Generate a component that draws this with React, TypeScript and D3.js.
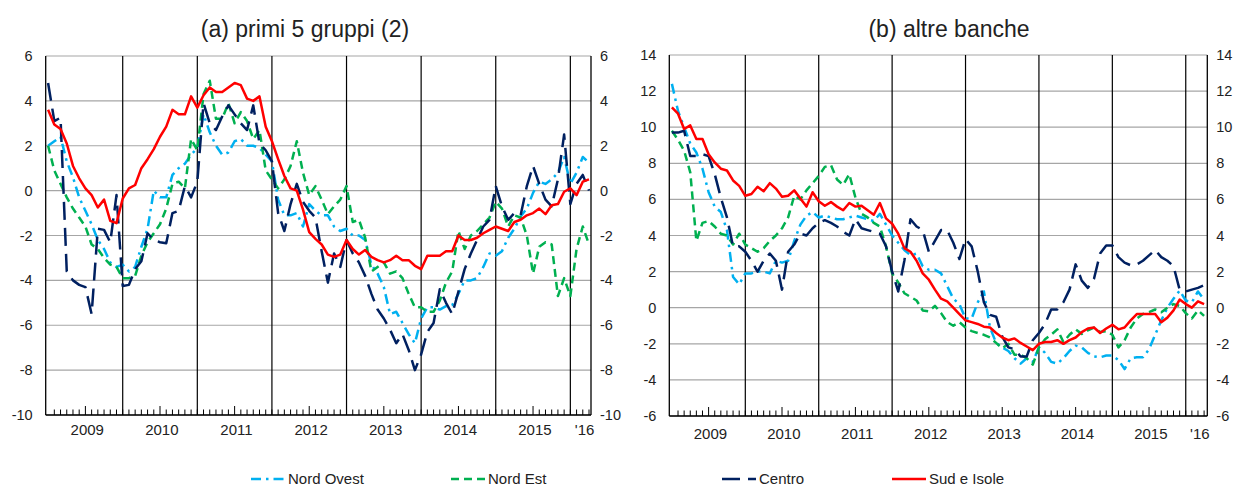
import * as d3 from 'd3';

// monthly data, Jan 2009 .. Apr 2016 (index 0 = Jan 2009)
const yearLabels = ['2009', '2010', '2011', '2012', '2013', '2014', '2015', "'16"];
const yearLabelMonth = [6.3, 18.3, 30.3, 42.3, 54.3, 66.3, 78.3, 86.3];
const yearBreaks = [12, 24, 36, 48, 60, 72, 84];

// (a) primi 5 gruppi
const ovestA = [
  2.0, 2.2, 2.4, 1.3, 0.6, -0.3, -0.9, -1.5, -2.2, -2.6, -3.2, -3.4,
  -3.3, -3.6, -3.4, -2.5, -1.7, 0.0, -0.3, -0.3, 0.7, 1.0, 1.2, 1.6,
  1.9, 3.4, 2.6, 2.0, 1.6, 1.7, 2.2, 2.3, 2.0, 2.0, 1.9, 1.6,
  1.3, -0.4, -1.1, -1.1, -1.0, -1.6, -0.6, -0.9, -1.1, -1.1, -1.6, -1.8,
  -1.7, -2.0, -2.0, -2.2, -3.3, -3.7, -4.3, -5.5, -5.4, -5.9, -6.4, -6.8,
  -5.7, -5.2, -5.2, -5.3, -5.15, -5.1, -4.6, -4.0, -4.0, -3.9, -3.4, -2.8,
  -2.9, -2.7, -2.1, -1.7, -1.15, -0.8, -0.1, 0.4, 0.3, 0.5, 0.8, 1.5,
  0.3, 0.8, 1.5, 1.25,
];
const estA = [
  2.0, 0.9, 0.3, -0.3, -0.8, -1.2, -1.6, -2.4, -2.6, -3.0, -3.3, -3.4,
  -3.9, -3.9, -3.8, -2.9, -2.3, -1.9, -1.5, -0.8, 0.3, 0.4, 0.1, 2.3,
  1.8, 4.3, 4.9, 3.2, 3.2, 3.9, 3.0, 3.5, 3.1, 2.3, 2.7, 0.9,
  0.5, 0.1, 0.5, 1.1, 2.2, 0.8, -0.2, 0.2, -0.4, -1.05, -0.7, -0.4,
  0.2, -1.4, -1.3, -2.1, -3.6, -3.4, -3.2, -3.7, -3.6, -3.9, -4.6, -5.2,
  -5.2, -5.4, -5.4, -4.9, -4.1, -3.6, -1.8, -2.6, -2.0, -1.8, -1.5, -1.2,
  -0.5, -0.8, -1.6, -1.1, -1.2, -2.0, -3.7, -2.5, -2.3, -2.4, -4.7, -3.9,
  -4.7, -2.6, -1.6, -2.4,
];
const centroA = [
  4.8, 3.1, 3.25, -3.6, -4.0, -4.2, -4.3, -5.5, -1.7, -1.75, -2.3, -0.2,
  -4.25, -4.2, -3.5, -3.15, -1.9, -2.2, -2.3, -2.35, -1.0, -0.9, 0.2, -0.3,
  0.4, 3.9, 3.0, 2.7, 3.3, 3.8, 3.4, 3.0, 2.7, 3.8, 2.1, 1.8,
  1.3, -1.0, -1.8, -0.6, 0.3, -0.5, -0.9, -1.2, -2.7, -4.1, -2.8, -3.4,
  -2.2, -2.8, -3.2, -3.8, -4.6, -5.3, -5.7, -6.2, -6.8, -6.4, -7.1, -8.0,
  -7.3, -6.3, -5.9, -4.4, -5.0, -5.5, -4.5, -3.5, -2.8, -2.2, -1.6, -1.3,
  0.2, -0.7, -1.3, -1.0, -1.1, 0.2, 1.1, 0.3, -0.4, -0.7, 0.5, 2.5,
  -0.6, 0.3, 0.7, 0.0,
];
const sudA = [
  3.6, 2.95, 2.75, 2.1, 1.1, 0.55, 0.1, -0.2, -0.75, -0.4, -1.35, -1.45,
  -0.35, 0.1, 0.25, 1.0, 1.4, 1.85, 2.4, 2.85, 3.6, 3.4, 3.4, 4.2,
  3.7, 4.25, 4.6, 4.4, 4.4, 4.6, 4.8, 4.7, 4.1, 4.0, 4.2, 2.85,
  2.2, 1.4, 0.65, 0.1, 0.0, -0.85, -1.85, -2.15, -2.4, -2.85, -2.95, -2.85,
  -2.2, -2.6, -2.85, -2.65, -2.95, -3.1, -3.2, -3.1, -2.9, -3.1, -3.1, -3.35,
  -3.5, -2.9, -2.9, -2.9, -2.7, -2.7, -2.0, -2.2, -2.2, -2.1, -1.9, -1.75,
  -1.6, -1.7, -1.8, -1.4, -1.3, -1.1, -1.0, -0.8, -1.05, -0.65, -0.6, -0.05,
  0.1, -0.2, 0.4, 0.5,
];

// (b) altre banche
const ovestB = [
  12.4, 10.9, 10.0, 9.1, 8.6, 7.7, 6.4, 5.6, 5.3, 4.3, 1.7, 1.3,
  1.9, 1.9, 2.0, 2.0, 1.9, 2.6, 2.5, 2.6, 3.7, 4.6, 5.1, 5.3,
  5.0, 5.1, 5.0, 4.9, 4.9, 5.0, 5.1, 5.0, 4.9, 4.8, 5.2, 4.6,
  4.0, 3.6, 3.2, 2.9, 3.0, 2.3, 2.1, 2.1, 1.9, 1.2, 0.5, 0.2,
  -0.6, -0.6, 0.3, 0.9, -1.1, -1.95, -2.2, -2.4, -2.8, -3.1, -2.8, -3.0,
  -2.2, -2.5, -3.0, -3.1, -2.8, -2.4, -2.1, -2.2, -2.5, -2.7, -2.75, -2.65,
  -2.65, -2.9, -3.4, -2.8, -2.75, -2.75, -2.3, -1.5, -0.7, 0.0, 0.5, 0.95,
  0.4, 0.3, 0.9, 0.45,
];
const estB = [
  9.8, 9.3, 8.7, 7.5, 3.7, 4.7, 4.8, 4.5, 4.1, 4.0, 3.5, 4.1,
  3.5, 3.3, 3.1, 3.3, 3.7, 4.0, 4.4, 5.0, 6.2, 6.0, 6.5, 6.9,
  7.3, 7.8, 7.9, 7.1, 6.8, 7.4, 6.1, 5.2, 5.0, 4.7, 4.5, 3.4,
  1.9, 1.4, 0.8, 0.6, 0.4, -0.15, -0.2, 0.1, -0.3, -0.8, -1.0, -0.8,
  -1.1, -1.3, -1.4, -1.5, -1.65, -1.95, -2.25, -2.0, -2.6, -2.6, -2.8, -3.15,
  -2.2, -1.75, -1.5, -1.2, -1.9, -1.5, -1.2, -1.45, -1.25, -1.1, -1.35, -1.3,
  -1.5, -2.2, -1.8, -1.1, -0.6, -0.35, -0.25, -0.1, -0.25, 0.0, 0.2, 0.1,
  -0.3, -0.6, -0.15, -0.45,
];
const centroB = [
  9.7, 9.7, 9.8, 8.4, 8.4, 8.5, 8.4, 7.4, 6.1, 5.0, 3.4, 3.4,
  3.1, 2.6, 2.0, 2.6, 3.0, 2.6, 1.0, 3.1, 3.5, 4.1, 4.0, 4.4,
  4.7, 4.85, 4.7, 4.5, 4.2, 4.0, 4.9, 4.4, 4.3, 4.2, 4.1, 3.4,
  2.0, 0.9, 2.6, 4.9, 4.5, 4.3, 3.1, 3.7, 4.3, 4.3, 3.6, 2.7,
  3.8, 3.4, 2.0, 0.3, -0.4, -0.5, -1.6, -2.2, -2.3, -2.7, -2.7, -1.8,
  -1.4, -0.9, -0.1, -0.1, 0.3, 1.0, 2.4, 1.5, 1.1, 1.6, 3.0, 3.45,
  3.45, 2.8, 2.5, 2.35, 2.4, 2.6, 2.9, 3.2, 2.8, 2.6, 2.3, 1.0,
  0.9, 1.0, 1.1, 1.25,
];
const sudB = [
  11.1, 10.75, 9.9, 10.1, 9.35, 9.35, 8.5, 8.05, 7.7, 7.6, 7.05, 6.75,
  6.2, 6.3, 6.7, 6.45, 6.9, 6.6, 6.15, 6.2, 6.5, 6.05, 5.6, 6.4,
  5.9, 5.65, 5.85, 5.6, 5.4, 5.8, 5.6, 5.65, 5.4, 5.15, 5.8, 4.95,
  4.65, 4.1, 3.3, 3.1, 2.6, 1.9, 1.55, 1.0, 0.5, 0.35, 0.0, -0.35,
  -0.7, -0.8, -0.9, -1.05, -1.1, -1.4, -1.65, -1.8, -1.7, -1.95, -2.15, -2.35,
  -2.0, -1.9, -1.9, -1.8, -2.0, -1.8, -1.65, -1.35, -1.15, -1.1, -1.4, -1.15,
  -0.95, -1.2, -1.1, -0.7, -0.35, -0.35, -0.35, -0.35, -0.8, -0.55, -0.15, 0.45,
  0.2, 0.0, 0.35, 0.2,
];

const yTicksA = [6, 4, 2, 0, -2, -4, -6, -8, -10];
const yTicksB = [14, 12, 10, 8, 6, 4, 2, 0, -2, -4, -6];

const FONT = "'Liberation Sans', Arial, sans-serif";

const styles = {
  ovest: { color: '#00B0F0', dash: '10,5,2.5,5' },
  est: { color: '#00B050', dash: '8,5' },
  centro: { color: '#002060', dash: '18,8' },
  sud: { color: '#FF0000', dash: null },
};

type Series = { key: keyof typeof styles; values: number[] };

function Panel(props: {
  title: string; titleX: number;
  left: number; right: number; top: number; bottom: number;
  x0: number; x87: number; yDomain: [number, number]; yTicks: number[];
  labelBase: number; series: Series[];
}) {
  const { left, right, top, bottom } = props;
  const x = d3.scaleLinear().domain([0, 87]).range([props.x0, props.x87]);
  const y = d3.scaleLinear().domain(props.yDomain).range([bottom, top]);
  const line = d3.line<number>().x((_, i) => x(i)).y((d) => y(d));
  const months = d3.range(1, 88);

  return (
    <g>
      <text x={props.titleX} y={37} textAnchor="middle" fontSize={23} fill="#222">{props.title}</text>
      {props.yTicks.map((t) => (
        <g key={t}>
          <line x1={left} x2={right} y1={y(t)} y2={y(t)} stroke="#a6a6a6" strokeWidth={1.2} />
          <text x={left - 13} y={y(t) + 5} textAnchor="end" fontSize={14.5} fill="#222">{t}</text>
          <text x={right + 9} y={y(t) + 5} textAnchor="start" fontSize={14.5} fill="#222">{t}</text>
        </g>
      ))}
      {yearBreaks.map((m) => (
        <line key={m} x1={x(m)} x2={x(m)} y1={top} y2={bottom} stroke="#000" strokeWidth={1.2} />
      ))}
      {months.map((m) => (
        <line key={m} x1={x(m)} x2={x(m)} y1={bottom} y2={bottom - (m % 12 === 6 ? 9 : 5.5)} stroke="#000" strokeWidth={1} />
      ))}
      <line x1={left} x2={left} y1={top} y2={bottom} stroke="#000" strokeWidth={1.3} />
      <line x1={right} x2={right} y1={top} y2={bottom} stroke="#000" strokeWidth={1.3} />
      <line x1={left} x2={right} y1={bottom} y2={bottom} stroke="#000" strokeWidth={1.3} />
      {yearLabels.map((l, i) => (
        <text key={l} x={x(yearLabelMonth[i])} y={props.labelBase} textAnchor="middle" fontSize={15} fill="#222">{l}</text>
      ))}
      {props.series.map((s) => (
        <path key={s.key} d={line(s.values) || ''} fill="none" stroke={styles[s.key].color}
          strokeWidth={2.5} strokeDasharray={styles[s.key].dash || undefined} strokeLinejoin="round" />
      ))}
    </g>
  );
}

const legendItems = [
  { key: 'ovest' as const, label: 'Nord Ovest', x: 251 },
  { key: 'est' as const, label: 'Nord Est', x: 451 },
  { key: 'centro' as const, label: 'Centro', x: 722 },
  { key: 'sud' as const, label: 'Sud e Isole', x: 892 },
];

export default function App() {
  return (
    <svg width={1240} height={489} style={{ position: 'absolute', left: 0, top: 0, background: '#fff' }} fontFamily={FONT}>
      <Panel title="(a) primi 5 gruppi (2)" titleX={305} left={45.7} right={591} top={56} bottom={415}
        x0={48.1} x87={589} yDomain={[-10, 6]} yTicks={yTicksA} labelBase={435}
        series={[{ key: 'ovest', values: ovestA }, { key: 'est', values: estA }, { key: 'centro', values: centroA }, { key: 'sud', values: sudA }]} />
      <Panel title="(b) altre banche" titleX={949} left={669.3} right={1207.3} top={55} bottom={416}
        x0={671.9} x87={1204.1} yDomain={[-6, 14]} yTicks={yTicksB} labelBase={439}
        series={[{ key: 'ovest', values: ovestB }, { key: 'est', values: estB }, { key: 'centro', values: centroB }, { key: 'sud', values: sudB }]} />
      {legendItems.map((it) => (
        <g key={it.key}>
          <line x1={it.x} x2={it.x + 34} y1={479} y2={479} stroke={styles[it.key].color} strokeWidth={2.5}
            strokeDasharray={styles[it.key].dash || undefined} />
          <text x={it.x + 37} y={484} fontSize={15} fill="#222">{it.label}</text>
        </g>
      ))}
    </svg>
  );
}
